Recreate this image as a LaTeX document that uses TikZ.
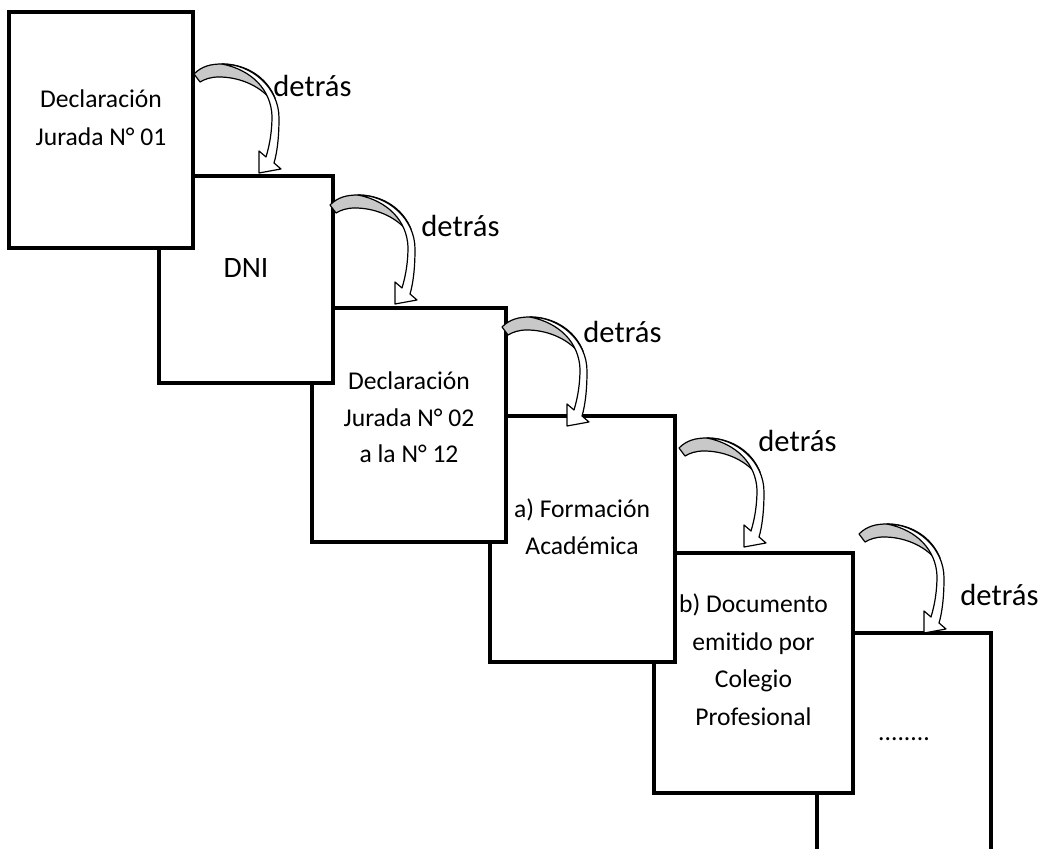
\documentclass[tikz,border=0pt]{standalone}
\usepackage{fontspec}
\setmainfont{Carlito}[Ligatures=NoCommon]
\definecolor{arrgray}{RGB}{200,200,200}
\tikzset{
 boxst/.style={draw, line width=1.65pt, fill=white, anchor=north west, outer sep=0pt, inner sep=0pt},
 txt/.style={anchor=base, inner sep=0pt, font=\fontsize{12.8}{15}\selectfont},
 bigtxt/.style={anchor=base, inner sep=0pt, font=\fontsize{14.8}{18}\selectfont},
 lbl/.style={anchor=base west, inner sep=0pt, font=\fontsize{15.3}{18}\selectfont},
 arrline/.style={line width=0.6pt, line join=round},
}
\newcommand\bentarrow[2]{%
\begin{scope}[shift={(#1,#2)}]
\draw[arrline, fill=arrgray] (-3,-4) .. controls (5,-12) and (14,-14) .. (25,-14) .. controls (50,-14) and (70,0) .. (78,20) -- (76,24) .. controls (62,6) and (40,-1) .. (22,-1) .. controls (14,-1) and (8,1) .. (3,4) -- cycle;
\draw[arrline, fill=white] (25,-14) .. controls (55,-14) and (82,10) .. (82,40) .. controls (82,60) and (80,75) .. (77,85) -- (84,91) -- (62,95) -- (62,73) -- (69,79) .. controls (73,66) and (75,52) .. (75,38) .. controls (74,12) and (55,-8) .. (25,-14) -- cycle;
\end{scope}}
\begin{document}
\begin{tikzpicture}[x=0.5pt, y=-0.5pt]
\useasboundingbox (0,0) rectangle (1044,849);
\fill[white] (0,0) rectangle (1044,849);
% boxes, back to front
\node[boxst, minimum width=87pt, minimum height=118pt] (b6) at (817,633) {};
\node[boxst, minimum width=99.5pt, minimum height=120pt] (b5) at (654,553) {};
\node[boxst, minimum width=92.5pt, minimum height=123pt] (b4) at (490,416) {};
\node[boxst, minimum width=97pt, minimum height=117pt] (b3) at (312,308) {};
\node[boxst, minimum width=87pt, minimum height=103.5pt] (b2) at (159,176) {};
\node[boxst, minimum width=92pt, minimum height=118pt] (b1) at (9,12) {};
% texts
\node[txt] (t1a) at (101,108) {Declaración};
\node[txt] (t1b) at (101,146) {Jurada N° 01};
\node[bigtxt] (t2) at (246,278) {DNI};
\node[txt] (t3a) at (409,390) {Declaración};
\node[txt] (t3b) at (409,427) {Jurada N° 02};
\node[txt] (t3c) at (409,463) {a la N° 12};
\node[txt] (t4a) at (582,518) {a) Formación};
\node[txt] (t4b) at (582,555) {Académica};
\node[txt] (t5a) at (753.5,612) {b) Documento};
\node[txt] (t5b) at (753.5,650) {emitido por};
\node[txt] (t5c) at (753.5,687) {Colegio};
\node[txt] (t5d) at (753.5,725) {Profesional};
\node[txt] (t6) at (904,740) {........};
% curved arrows
\bentarrow{197}{78}
\bentarrow{333}{209}
\bentarrow{505}{331}
\bentarrow{682}{452}
\bentarrow{862}{538}
% labels
\node[lbl] (l1) at (273,97) {detrás};
\node[lbl] (l2) at (421,237) {detrás};
\node[lbl] (l3) at (583,343) {detrás};
\node[lbl] (l4) at (758,452) {detrás};
\node[lbl] (l5) at (960,606) {detrás};
\end{tikzpicture}
\end{document}
